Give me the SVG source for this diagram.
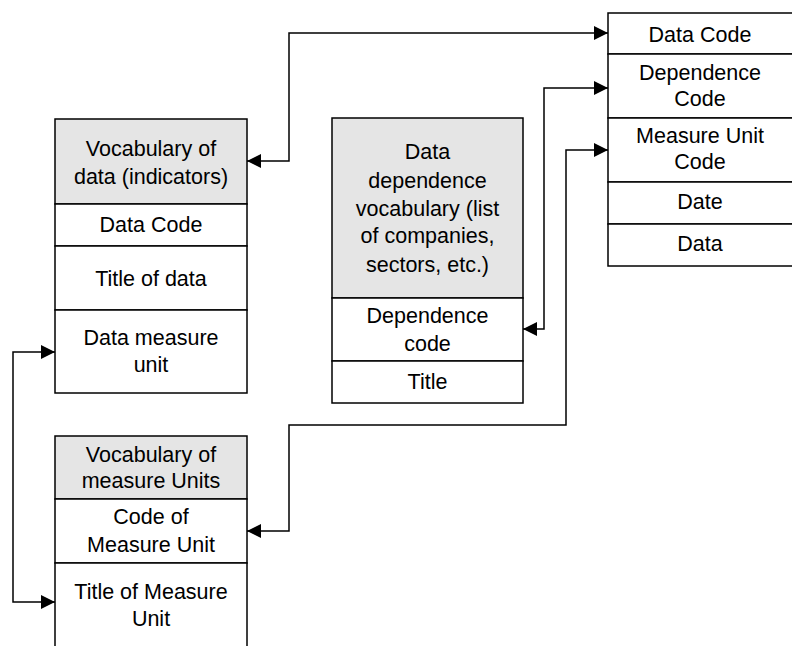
<svg xmlns="http://www.w3.org/2000/svg" width="792" height="646" viewBox="0 0 792 646">
<defs>
<marker id="arr" markerUnits="userSpaceOnUse" markerWidth="14" markerHeight="14" refX="14" refY="7" orient="auto-start-reverse" viewBox="0 0 14 14">
<path d="M0,0 L14,7 L0,14 z" fill="#000"/>
</marker>
<style>
.hd{fill:#e5e5e5;stroke:#000;stroke-width:1.5}
.rw{fill:#fff;stroke:#000;stroke-width:1.5}
text{font-family:"Liberation Sans",Arial,sans-serif;font-size:21.5px;fill:#000;text-anchor:middle}
.cn{fill:none;stroke:#000;stroke-width:1.5;marker-start:url(#arr);marker-end:url(#arr)}
</style>
</defs>
<rect width="792" height="646" fill="#fff"/>
<g id="data-vocabulary">
<rect class="hd" x="55" y="119" width="192" height="85"/>
<rect class="rw" x="55" y="204" width="192" height="42"/>
<rect class="rw" x="55" y="246" width="192" height="64"/>
<rect class="rw" x="55" y="310" width="192" height="83"/>
<text x="151" y="156">Vocabulary of</text>
<text x="151" y="184">data (indicators)</text>
<text x="151" y="232">Data Code</text>
<text x="151" y="285.5">Title of data</text>
<text x="151" y="345">Data measure</text>
<text x="151" y="372">unit</text>
</g>
<g id="measure-units-vocabulary">
<rect class="hd" x="55" y="436" width="192" height="63"/>
<rect class="rw" x="55" y="499" width="192" height="64"/>
<rect class="rw" x="55" y="563" width="192" height="100"/>
<text x="151" y="462">Vocabulary of</text>
<text x="151" y="488">measure Units</text>
<text x="151" y="524">Code of</text>
<text x="151" y="551.5">Measure Unit</text>
<text x="151" y="599">Title of Measure</text>
<text x="151" y="626">Unit</text>
</g>
<g id="dependence-vocabulary">
<rect class="hd" x="332" y="118" width="191" height="180"/>
<rect class="rw" x="332" y="298" width="191" height="63"/>
<rect class="rw" x="332" y="361" width="191" height="42"/>
<text x="427.5" y="159">Data</text>
<text x="427.5" y="188">dependence</text>
<text x="427.5" y="216">vocabulary (list</text>
<text x="427.5" y="243">of companies,</text>
<text x="427.5" y="272">sectors, etc.)</text>
<text x="427.5" y="323">Dependence</text>
<text x="427.5" y="351">code</text>
<text x="427.5" y="389">Title</text>
</g>
<g id="data-table">
<rect class="rw" x="608" y="13" width="200" height="41"/>
<rect class="rw" x="608" y="54" width="200" height="64"/>
<rect class="rw" x="608" y="118" width="200" height="64"/>
<rect class="rw" x="608" y="182" width="200" height="42"/>
<rect class="rw" x="608" y="224" width="200" height="42"/>
<text x="700" y="41.5">Data Code</text>
<text x="700" y="80">Dependence</text>
<text x="700" y="106">Code</text>
<text x="700" y="143">Measure Unit</text>
<text x="700" y="169">Code</text>
<text x="700" y="209">Date</text>
<text x="700" y="251">Data</text>
</g>
<g id="connectors">
<path class="cn" d="M247,161 H289 V33 H608"/>
<path class="cn" d="M523,329 H544 V88 H608"/>
<path class="cn" d="M247,531 H289 V425 H566 V150 H608"/>
<path class="cn" d="M55,352 H13 V602 H55"/>
</g>
</svg>
